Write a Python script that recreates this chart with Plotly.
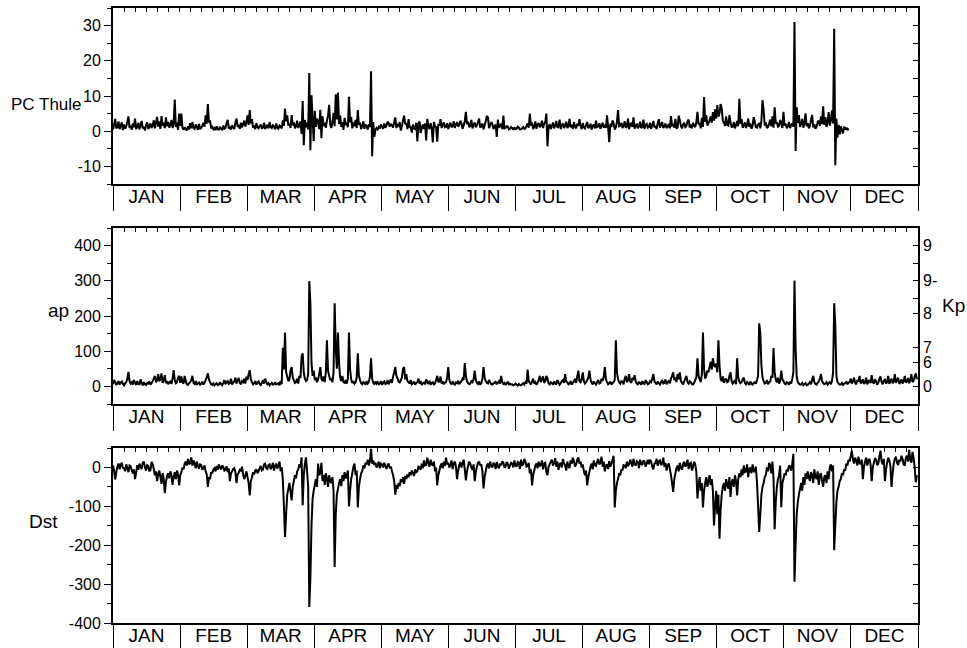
import calendar
from datetime import datetime, timedelta

import plotly.graph_objects as go

YEAR = 2001
MONTHS = ["JAN", "FEB", "MAR", "APR", "MAY", "JUN",
          "JUL", "AUG", "SEP", "OCT", "NOV", "DEC"]

# Polar cap index (Thule), two readings per day (00 and 12 UT), Jan..Nov
pc_thule = [
    [0.5, 1.8, 3.5, 0.8, 1.2, 2.8, 0.6, 1.5, 2.5, 0.3, 1.9, 0.7, 1.4, 2.6, 4.2, 0.9,
     1.6, 0.4, 2.2, 1.1, 3.6, 0.6, 1.3, 2.4, 0.5, 1.7, 2.9, 0.8, 1.2, 0.2, 1.8, 2.5,
     0.6, 1.4, 2.2, 0.9, 1.6, 3.1, 0.8, 2.4, 4.1, 1.3, 2.8, 0.7, 4.3, 1.6, 2.4, 0.9,
     3.9, 1.4, 2.6, 1.0, 1.8, 3.2, 0.9, 2.1, 9.0, 1.2, 2.4, 0.4, 5.0, 1.5],
    [5.0, 0.9, 0.4, 1.1, 0.6, 0.2, 1.4, 0.5, 2.3, 0.8, 2.6, 1.0, 0.7, 1.9, 1.2, 0.4,
     2.1, 0.6, 0.9, 1.6, 2.4, 1.3, 4.5, 2.1, 7.7, 2.4, 3.1, 0.8, 1.2, 0.5, 0.9, 0.3,
     1.4, 0.6, 0.5, 1.1, 0.8, 0.3, 1.6, 0.7, 0.9, 2.4, 3.2, 0.8, 1.1, 0.5, 1.7, 0.9,
     0.6, 2.5, 3.6, 1.2, 1.8, 0.7, 2.4, 1.1],
    [2.1, 3.0, 1.3, 2.4, 4.5, 1.8, 6.0, 2.2, 3.4, 1.0, 1.6, 0.6, 2.3, 1.1, 0.8, 1.5,
     1.9, 0.7, 1.1, 2.4, 0.6, 1.3, 1.8, 0.8, 2.6, 1.2, 0.9, 1.7, 1.4, 0.5, 2.2, 1.0,
     0.7, 1.6, 1.3, 0.8, 3.1, 1.5, 6.4, 2.8, 4.5, 1.6, 2.2, 0.9, 4.6, 1.7, 2.5, 0.8,
     1.4, 3.0, 0.9, 1.8, 2.7, -0.8, 8.6, -4.0, 3.2, 1.1, 2.4, 0.5, 16.5, -5.4],
    [10.2, 3.5, -2.8, 5.8, 1.2, 3.6, 2.8, 0.6, 6.1, -2.0, 4.2, 1.5, 2.4, 1.0, 3.0, 4.3,
     7.5, 1.8, 0.9, 2.6, 5.2, 1.4, 10.5, 3.3, 11.0, 2.0, 4.5, 1.2, 2.6, 0.4, 3.8, 1.7,
     2.5, 1.1, 9.8, 2.5, 4.1, 0.8, 2.5, 1.4, 3.2, 0.9, 6.0, 1.8, 2.4, 0.6, 1.5, 2.8,
     0.7, 1.9, 1.4, 0.5, 2.0, 1.2, 17.0, -7.1, 2.6, -1.6, 0.4, 0.9],
    [0.5, 1.2, 0.8, 1.9, 1.4, 0.7, 2.2, 1.0, 1.6, 2.7, 2.3, 1.3, 2.1, 1.7, 1.0, 2.6,
     3.9, 0.9, 1.8, 1.5, 2.6, 0.2, 1.4, 3.1, 4.4, 2.0, 2.3, 0.6, 3.4, 1.2, 1.1, -0.4,
     1.9, 0.8, 0.6, 2.4, -2.9, 2.2, 2.8, -0.5, 1.0, 1.9, 0.6, 2.2, -2.6, 3.5, 1.6, 0.6,
     2.3, 0.9, -3.2, 2.6, 1.4, 1.2, -3.0, 2.0, 1.6, 3.4, 0.9, 1.8, 2.5, 1.1],
    [1.2, 2.3, 0.6, 1.7, 2.4, 1.1, 1.5, 2.8, 0.9, 1.9, 2.6, 1.3, 1.8, 3.0, 2.2, 0.7,
     1.6, 2.9, 5.5, 2.0, 2.7, 1.2, 1.5, 3.2, 0.8, 1.9, 2.5, 1.1, 1.7, 2.6, 3.6, 1.0,
     1.4, 2.2, 0.5, 1.6, 2.8, 4.3, 3.9, 0.9, 1.7, 2.6, 2.1, 0.6, 1.2, 1.9, -1.6, 3.3,
     1.0, 1.5, 2.1, 0.6, 4.4, 0.8, 0.9, 1.4, 1.3, 0.5, 0.7, 1.2],
    [0.9, 0.4, 1.1, 0.6, 0.7, 1.3, 1.0, 0.5, 0.6, 0.8, 1.2, 0.7, 0.8, 1.5, 2.2, 1.0,
     5.0, 1.6, 2.4, 0.6, 1.2, 2.8, 0.7, 1.9, 2.3, 1.1, 1.6, 3.0, 0.9, 2.1, 2.6, 5.0,
     -4.3, 1.2, 2.0, 0.6, 1.4, 2.5, 0.8, 1.7, 2.9, 1.0, 1.3, 3.3, 0.6, 1.8, 2.2, 0.9,
     1.6, 2.7, 0.9, 1.4, 3.5, 1.1, 1.8, 0.7, 2.6, 1.3, 0.8, 2.1, 1.5, 3.4],
    [1.5, 0.6, 2.3, 1.1, 0.8, 1.7, 2.6, 0.9, 1.3, 2.1, 0.5, 1.5, 1.9, 0.8, 3.0, 1.2,
     1.4, 2.3, 0.7, 1.6, 2.4, 1.0, 1.8, 0.9, 4.5, 1.1, -3.1, 2.2, 1.2, 3.1, 2.2, 0.5,
     1.1, 2.6, 6.0, 1.4, 1.6, 2.4, 0.9, 1.5, 2.8, 1.0, 1.3, 3.6, 0.6, 1.9, 2.4, 1.2,
     3.9, 0.7, 1.5, 2.2, 0.8, 1.4, 2.7, 0.9, 1.2, 3.3, 0.6, 1.8, 2.1, 1.0],
    [1.2, 2.4, 0.7, 1.6, 2.9, 1.1, 1.5, 0.6, 2.3, 3.4, 1.0, 1.8, 2.6, 0.9, 1.4, 2.2,
     0.9, 1.3, 2.1, 0.8, 4.3, 1.6, 1.8, 1.0, 3.5, 0.7, 1.1, 4.4, 3.1, 1.4, 0.8, 1.9,
     2.4, 1.2, 1.5, 2.8, 3.3, 1.0, 1.9, 0.8, 2.4, 1.5, 1.2, 2.6, 5.5, 1.9, 2.3, 0.8,
     3.8, 1.2, 9.7, 2.6, 4.6, 1.6, 2.3, 3.1, 4.2, 2.4, 5.4, 3.0],
    [6.2, 3.6, 7.4, 4.1, 5.0, 7.7, 6.5, 3.0, 2.4, 1.5, 4.2, 1.8, 1.6, 4.6, 2.4, 1.2,
     1.3, 2.6, 0.8, 1.7, 2.9, 1.4, 9.2, 2.1, 3.4, 1.0, 1.6, 2.5, 0.9, 1.8, 3.6, 1.2,
     2.2, 0.7, 1.5, 4.0, 2.6, 1.1, 1.0, 1.9, 2.3, 0.8, 3.0, 8.8, 6.1, 1.6, 2.5, 0.9,
     1.2, 2.1, 3.3, 1.4, 4.2, 1.0, 6.8, 2.2, 2.6, 1.3, 1.5, 3.2, 2.4, 0.9],
    [5.5, 1.6, 2.1, 0.8, 1.4, 2.6, 0.9, 1.7, 2.2, 1.3, 31.0, -5.6, 6.8, 2.4, 4.6, 1.2,
     2.1, 3.5, 1.0, 2.2, 5.1, 1.4, 2.3, 0.8, 1.5, 3.3, 4.6, 1.1, 2.0, 0.7, 1.2, 2.6,
     3.0, 1.5, 4.2, 2.0, 7.1, 1.8, 4.0, 1.2, 2.6, 5.4, 1.6, 3.1, 5.9, 2.2, 29.1, -9.7,
     3.6, -1.8, 1.8, -0.9, 1.4, 0.2, -0.6, 1.3, 0.5, 1.0, 0.3, 0.8],
]

# Planetary ap index, two readings per day, Jan..Dec
ap_index = [
    [6, 18, 12, 4, 9, 15, 5, 11, 14, 7, 3, 9, 12, 22, 41, 15, 8, 12, 5, 18, 10, 4,
     15, 7, 6, 20, 9, 3, 12, 6, 4, 10, 8, 14, 5, 9, 15, 22, 30, 12, 18, 35, 14, 22,
     37, 10, 16, 32, 9, 15, 6, 12, 14, 7, 22, 46, 18, 9, 12, 25, 30, 10],
    [28, 12, 8, 30, 15, 6, 4, 9, 12, 18, 30, 10, 7, 15, 4, 9, 11, 5, 8, 14, 5, 10,
     18, 26, 37, 20, 12, 6, 4, 8, 3, 6, 9, 4, 5, 12, 7, 3, 10, 18, 6, 12, 15, 7,
     9, 22, 5, 11, 14, 25, 8, 18, 24, 10, 6, 15],
    [12, 22, 8, 28, 18, 35, 46, 20, 12, 6, 9, 15, 5, 11, 14, 7, 4, 10, 18, 8, 22, 12,
     6, 9, 3, 7, 10, 5, 6, 12, 4, 8, 9, 3, 15, 6, 110, 48, 153, 40, 28, 15, 20, 45,
     55, 25, 18, 10, 12, 22, 8, 30, 24, 85, 94, 40, 22, 15, 18, 35, 299, 236],
    [66, 30, 45, 18, 25, 12, 20, 35, 55, 22, 15, 28, 12, 40, 131, 45, 30, 18, 22, 12,
     40, 236, 110, 50, 153, 65, 25, 15, 30, 12, 10, 18, 8, 22, 153, 48, 20, 10, 15, 8,
     12, 25, 94, 30, 18, 9, 6, 12, 10, 5, 15, 8, 12, 28, 80, 22, 10, 6, 14, 8],
    [12, 6, 8, 15, 5, 10, 14, 7, 9, 18, 6, 12, 20, 10, 28, 40, 55, 30, 22, 14, 10, 18,
     25, 50, 55, 20, 35, 15, 12, 8, 18, 6, 9, 14, 5, 10, 12, 22, 8, 15, 4, 9, 11, 6,
     20, 12, 7, 16, 5, 10, 12, 4, 9, 18, 30, 12, 15, 28, 8, 14, 6, 11],
    [12, 25, 55, 18, 10, 6, 14, 8, 5, 11, 9, 16, 6, 12, 15, 22, 18, 66, 30, 14, 10, 6,
     8, 15, 12, 20, 45, 18, 10, 7, 14, 5, 9, 22, 55, 25, 15, 10, 8, 18, 12, 6, 5, 9,
     10, 14, 6, 11, 15, 8, 30, 12, 7, 10, 4, 9, 12, 6, 8, 5],
    [6, 3, 4, 8, 5, 2, 7, 4, 3, 6, 9, 5, 12, 8, 48, 15, 10, 6, 14, 22, 8, 12, 5, 10,
     18, 30, 12, 22, 28, 10, 15, 30, 22, 9, 6, 12, 10, 5, 14, 8, 7, 18, 11, 5, 9, 15,
     18, 10, 35, 14, 12, 6, 8, 15, 5, 11, 14, 22, 10, 28, 45, 15],
    [12, 20, 40, 15, 8, 12, 18, 25, 45, 20, 10, 6, 14, 9, 5, 12, 18, 8, 10, 22, 15, 28,
     55, 20, 12, 6, 9, 14, 5, 10, 12, 18, 131, 40, 20, 12, 8, 15, 14, 6, 22, 30, 12, 18,
     35, 14, 10, 25, 18, 32, 14, 8, 6, 12, 10, 5, 15, 9, 7, 18, 12, 6],
    [8, 15, 12, 22, 35, 14, 10, 6, 14, 9, 5, 12, 18, 8, 10, 20, 6, 12, 15, 9, 22, 30,
     40, 18, 25, 12, 35, 20, 40, 15, 10, 6, 14, 22, 30, 12, 8, 15, 12, 6, 5, 10, 18, 25,
     80, 30, 20, 12, 35, 153, 48, 22, 30, 45, 40, 55, 70, 48, 80, 60],
    [55, 65, 40, 131, 60, 22, 15, 28, 10, 18, 22, 12, 14, 30, 40, 15, 8, 12, 18, 6, 80, 25,
     14, 9, 12, 20, 25, 10, 6, 12, 9, 4, 14, 7, 5, 10, 12, 8, 18, 30, 179, 150, 60, 25,
     15, 8, 10, 18, 6, 12, 14, 30, 25, 109, 40, 18, 12, 25, 8, 15, 45, 20],
    [15, 8, 6, 12, 10, 5, 14, 8, 22, 40, 301, 110, 28, 12, 8, 5, 6, 10, 4, 7, 9, 3,
     5, 8, 12, 6, 18, 30, 12, 7, 5, 10, 14, 22, 35, 15, 10, 6, 8, 12, 5, 9, 12, 6,
     15, 40, 236, 175, 30, 12, 8, 5, 6, 10, 4, 8, 9, 14, 6, 11],
    [12, 22, 8, 15, 25, 10, 6, 18, 14, 30, 9, 12, 20, 7, 11, 25, 6, 14, 18, 9, 32, 12,
     8, 20, 15, 5, 10, 22, 28, 12, 6, 16, 19, 8, 12, 30, 7, 14, 22, 9, 14, 35, 10, 18,
     25, 7, 12, 20, 8, 15, 30, 11, 14, 24, 9, 18, 35, 12, 16, 28, 37, 20],
]

# Dst index (nT), two readings per day, Jan..Dec
dst_index = [
    [5, -8, -31, -12, 2, 10, -5, 8, 12, -3, 0, -10, 8, -2, -12, 5, 3, -8, -15, -5,
     -30, -14, 6, -6, 10, 2, -4, 12, 15, 0, -8, 6, 4, -10, -6, 14, 8, -4, -20, -10,
     -35, -18, -8, -25, -42, -15, -30, -66, -38, -22, -15, -28, -10, -20, -45, -25,
     -12, -30, -8, -18, -46, -20],
    [-12, 0, -5, 10, 15, 5, 22, 8, 12, 26, 5, 18, 10, -2, 15, 4, -3, 8, 6, -6,
     -2, 5, -10, -18, -50, -25, -30, -12, -15, -5, -2, -10, 4, -6, 8, 0, -5, 5, 2, -8,
     -6, 3, -12, -2, -35, -15, -10, -4, -2, -12, -40, -18, -14, -6, -8, 2],
    [-18, -30, -22, -10, -25, -40, -72, -35, -25, -12, -18, -8, -5, -15, -10, -2, 4, -8,
     -6, 8, 10, -2, -4, 6, 8, -5, 2, 12, -8, 4, 10, -3, 5, 15, -10, 0, -30, -100,
     -179, -120, -70, -55, -40, -62, -85, -50, -35, -20, -28, -10, -5, 8, 0, 26,
     -97, -20, 10, 26, -10, -50, -359, -285],
    [-150, -80, -60, -45, -30, -50, 10, -20, -15, 12, -35, -20, -45, -15, -28, -50,
     -20, -35, -40, -25, -60, -256, -120, -70, -55, -40, -30, -48, -20, -35, -12, -28,
     -22, -8, -100, -60, -30, -15, 2, 10, -20, -8, -103, -50, -30, -15, -10, 5,
     -2, 12, 8, 20, 5, 15, 48, 10, 18, 6, 12, 0],
    [5, 15, -2, 10, 8, 0, 12, 3, -4, 6, 10, -2, 2, -10, -20, -35, -70, -45, -55, -40,
     -48, -30, -38, -25, -42, -22, -30, -18, -25, -12, -20, -8, -15, -22, -5, -12,
     -10, 2, 0, -6, 10, -2, 18, 5, 6, 25, 12, 2, 20, 8, 5, 15, -10, 0, -46, -20,
     -8, 5, 10, -2, 15, 4],
    [25, 8, 12, 0, 5, 18, -4, 10, 15, 2, -30, -8, 6, 14, 0, 10, 20, -5, -33, -10,
     4, 15, 10, 0, -6, 8, -35, -12, 2, 12, 15, 5, 8, -10, -54, -25, -10, 5, 10, -2,
     15, 4, 0, 12, 8, -4, 14, 2, -2, 10, 6, 16, 12, 0, 3, 14, 10, -3, 5, 12],
    [10, 0, 18, 5, 2, 14, 12, -4, 20, 6, 8, 22, 15, 2, 4, 12, -15, -5, -46, -20,
     -8, 5, 10, -2, 15, 3, 6, 18, -5, 10, 12, -12, -20, 2, 8, 15, 20, 5, 10, 24,
     2, 15, -6, 8, 12, 0, 22, 10, 6, -8, 15, 4, -2, 18, 10, 25, 16, 2, 8, 20, 26, 10],
    [15, 0, 8, -10, -20, -8, -46, -25, -12, 2, 10, -5, 18, 6, 4, 14, 22, 8, 12, 28,
     2, 15, -10, 5, 8, -4, 16, 2, 10, 20, 30, -103, -60, -40, -30, -15, -20, -5, -8, 6,
     5, -2, 15, 4, 8, 20, 12, 2, 22, 8, 5, 16, 14, -2, 20, 10, 6, 18, 15, 2, 10, 20],
    [8, 20, 15, 2, -5, 10, 12, 22, 4, 16, 18, 6, 10, 25, 2, 12, -8, 5, 10, -4,
     -20, -40, -63, -30, -15, -2, 5, -10, 12, 0, -6, 8, 15, 2, 6, 20, -4, 10, 12, -8,
     2, 15, 8, -12, -80, -45, -25, -60, -40, -103, -60, -40, -25, -50, -35, -20,
     -45, -30, -60, -149],
    [-100, -60, -120, -70, -183, -110, -70, -50, -40, -60, -30, -45, -55, -25, -76, -40,
     -30, -50, -20, -35, -72, -30, -15, -25, -5, -20, 5, -12, -10, 8, -25, -5, 0, -15,
     8, -8, -12, 2, -40, -100, -166, -120, -70, -50, -40, -25, -20, 0, -10, 12, 5, -15,
     15, -30, -159, -90, -50, -30, -20, 5, -102, -40],
    [-30, -15, -20, -5, -10, 5, 2, -8, 10, 35, -294, -200, -120, -90, -70, -55, -40, -60,
     -25, -45, -15, -30, -10, -25, -35, -12, -20, -40, -5, -25, -30, -10, -45, -20,
     -15, -35, -50, -25, -20, -40, -10, -30, 0, 8, -10, 5, -213, -150, -90, -60,
     -50, -35, -30, -15, -20, -5, -8, 10, 5, 20],
    [15, 30, 43, 20, 10, 25, 18, 5, 28, 12, 8, 20, -30, 2, 15, 25, 5, 18, 22, 8,
     -35, 0, 12, 24, 20, 6, 10, 28, 43, 15, 8, 22, -35, -5, 12, 25, 18, 4, -50, -15,
     10, 22, 28, 12, 6, 20, 15, 30, 22, 8, 5, 25, 30, 15, 45, 20, 12, 40, 25, 0,
     -38, -20],
]

# Kp scale drawn against the ap axis (ap equivalent -> Kp label)
kp_ap_values = [0, 67, 111, 207, 250, 300, 350, 400]
kp_labels = ["0", "6", "7", "8", "", "9-", "", "9"]

TEXT_FONT = "Liberation Sans, Arial, Helvetica, sans-serif"
LINE_W = 1.8
FIG_W, FIG_H = 967, 648
PLOT_LEFT, PLOT_RIGHT = 113, 918


def to_series(monthly):
    """Spread each month's readings evenly over that month."""
    xs, ys = [], []
    for m, vals in enumerate(monthly, start=1):
        ndays = calendar.monthrange(YEAR, m)[1]
        step = ndays / len(vals)
        start = datetime(YEAR, m, 1)
        for i, v in enumerate(vals):
            xs.append(start + timedelta(days=i * step))
            ys.append(v)
    return xs, ys


def ref(letter, n):
    return letter if n == 1 else f"{letter}{n}"


def key(letter, n):
    return f"{letter}axis" if n == 1 else f"{letter}axis{n}"


def px_domain(top, bottom):
    return [1 - bottom / FIG_H, 1 - top / FIG_H]


def label_ticks(lo, hi, step):
    """Tick values and plain-hyphen labels for a value axis."""
    vals = list(range(lo, hi + 1, step))
    return vals, [str(v) for v in vals]


panels = [
    dict(data=pc_thule, yrange=[-15, 35], ticks=(-10, 30, 10), minor=5, rdtick=5,
         top=8, bottom=184),
    dict(data=ap_index, yrange=[-50, 450], ticks=(0, 400, 100), minor=50, rdtick=None,
         top=228, bottom=404),
    dict(data=dst_index, yrange=[-400, 50], ticks=(-400, 0, 100), minor=50, rdtick=50,
         top=448, bottom=623),
]

fig = go.Figure()
layout = dict(
    width=FIG_W, height=FIG_H, autosize=False,
    margin=dict(l=0, r=0, t=0, b=0, pad=0),
    paper_bgcolor="white", plot_bgcolor="white",
    font=dict(family=TEXT_FONT, color="black", size=16),
    showlegend=False,
)
xdom = [PLOT_LEFT / FIG_W, PLOT_RIGHT / FIG_W]
tick_font = dict(family=TEXT_FONT, size=16, color="black")

for k, p in enumerate(panels):
    nx_data, nx_month = 2 * k + 1, 2 * k + 2
    ny_left, ny_right = 2 * k + 1, 2 * k + 2
    ydom = px_domain(p["top"], p["bottom"])

    xs, ys = to_series(p["data"])
    fig.add_trace(go.Scatter(
        x=xs, y=ys, mode="lines",
        line=dict(color="black", width=2.0, simplify=False),
        xaxis=ref("x", nx_data), yaxis=ref("y", ny_left),
        hoverinfo="skip",
    ))
    # empty traces so the overlaid month strip and right-hand axis are rendered
    fig.add_trace(go.Scatter(x=[None], y=[None], mode="lines", hoverinfo="skip",
                             xaxis=ref("x", nx_month), yaxis=ref("y", ny_left)))
    fig.add_trace(go.Scatter(x=[None], y=[None], mode="lines", hoverinfo="skip",
                             xaxis=ref("x", nx_data), yaxis=ref("y", ny_right)))

    # date axis along the top edge: 5-day ticks pointing inward
    layout[key("x", nx_data)] = dict(
        type="date", domain=xdom, anchor=ref("y", ny_left), side="top",
        range=[f"{YEAR}-01-01", f"{YEAR + 1}-01-01"],
        tick0=f"{YEAR}-01-01", dtick=5 * 86400000,
        ticks="inside", ticklen=4, tickwidth=1, tickcolor="black",
        showticklabels=False, showgrid=False, zeroline=False, automargin=False,
        showline=True, linecolor="black", linewidth=LINE_W,
    )
    # month strip along the bottom edge
    layout[key("x", nx_month)] = dict(
        type="linear", overlaying=ref("x", nx_data), anchor=ref("y", ny_left),
        side="bottom", range=[0, 12],
        tickmode="array", tickvals=[i + 0.5 for i in range(12)], ticktext=MONTHS,
        ticks="", ticklabelstandoff=-6,
        tickfont=dict(family=TEXT_FONT, size=19, color="black"),
        minor=dict(tickmode="linear", tick0=0, dtick=1, ticks="outside",
                   ticklen=25, tickwidth=1.4, tickcolor="black"),
        showgrid=False, zeroline=False, automargin=False,
        showline=True, linecolor="black", linewidth=LINE_W,
    )
    # left value axis
    tv, tt = label_ticks(*p["ticks"])
    layout[key("y", ny_left)] = dict(
        domain=ydom, anchor=ref("x", nx_data), side="left",
        range=p["yrange"], tickmode="array", tickvals=tv, ticktext=tt,
        ticks="outside", ticklen=7, tickwidth=1.3, tickcolor="black",
        minor=dict(tickmode="linear", tick0=0, dtick=p["minor"], ticks="outside",
                   ticklen=4, tickwidth=1.1, tickcolor="black"),
        tickfont=tick_font, showgrid=False, zeroline=False, automargin=False,
        showline=True, linecolor="black", linewidth=LINE_W,
    )
    # right axis: inward ticks (Kp scale on the ap panel)
    right = dict(
        overlaying=ref("y", ny_left), anchor=ref("x", nx_data), side="right",
        range=p["yrange"], ticks="inside", ticklen=5, tickwidth=1.1,
        tickcolor="black", showgrid=False, zeroline=False, automargin=False,
        showline=True, linecolor="black", linewidth=LINE_W,
    )
    if p["rdtick"] is None:
        right.update(tickmode="array", tickvals=kp_ap_values,
                     ticktext=kp_labels, showticklabels=True, tickfont=tick_font)
    else:
        right.update(tickmode="linear", tick0=0, dtick=p["rdtick"],
                     showticklabels=False)
    layout[key("y", ny_right)] = right


def title(text, x, y, size=19):
    return dict(text=text, x=x / FIG_W, y=1 - y / FIG_H, xref="paper",
                yref="paper", xanchor="center", yanchor="middle",
                showarrow=False,
                font=dict(family=TEXT_FONT, size=size, color="black"))


layout["annotations"] = [
    title("PC Thule", 46, 105, size=17),
    title("ap", 58, 310),
    title("Kp", 953, 305),
    title("Dst", 43, 521),
]

fig.update_layout(**layout)
fig.write_html("out.html")
